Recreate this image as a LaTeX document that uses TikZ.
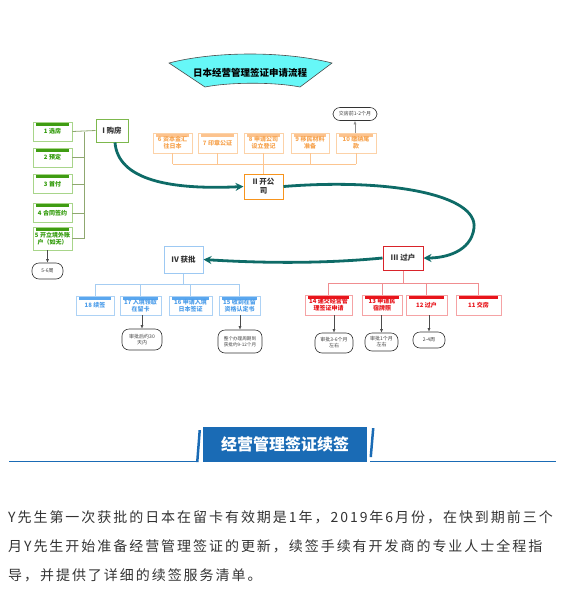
\documentclass[tikz,border=0pt]{standalone}
\usepackage{fontspec}
\setmainfont{Noto Sans CJK SC}
\newfontfamily\bodyfont[LetterSpace=14]{Noto Sans CJK SC}
\usetikzlibrary{arrows.meta}

\definecolor{gtext}{HTML}{2F9A07}
\definecolor{gedge}{HTML}{A8D58A}
\definecolor{gbar}{HTML}{3F9C12}
\definecolor{gline}{HTML}{8FA870}
\definecolor{gphase}{HTML}{7DB84D}
\definecolor{otext}{HTML}{F7A450}
\definecolor{oedge}{HTML}{FCD2A8}
\definecolor{obar}{HTML}{FCC38E}
\definecolor{oline}{HTML}{FCC590}
\definecolor{ophase}{HTML}{F7941D}
\definecolor{rtext}{HTML}{E8141B}
\definecolor{redge}{HTML}{F5A3A5}
\definecolor{rbar}{HTML}{E8141B}
\definecolor{rline}{HTML}{F08D90}
\definecolor{rphase}{HTML}{D9232A}
\definecolor{btext}{HTML}{4C9DEA}
\definecolor{bedge}{HTML}{ADD2F5}
\definecolor{bbar}{HTML}{5AA7EF}
\definecolor{bline}{HTML}{A6CDF2}
\definecolor{bphase}{HTML}{9DC9F3}
\definecolor{flow}{HTML}{0E6B67}
\definecolor{banner}{HTML}{66F7F7}
\definecolor{hblue}{HTML}{1A6BB5}
\definecolor{bodytext}{HTML}{333333}

\tikzset{
  task/.style={draw=#1edge, line width=0.8pt, fill=white, text=#1text,
    font=\bfseries\fontsize{6}{7}\selectfont, align=center, inner sep=1pt,
    minimum height=19pt,
    path picture={\fill[#1bar] ([xshift=3pt,yshift=-0.6pt]path picture bounding box.north west)
      rectangle ([xshift=-3pt,yshift=-3.6pt]path picture bounding box.north east);}},
  phase/.style={draw=#1, line width=1pt, fill=white, text=bodytext,
    font=\bfseries\fontsize{7.5}{9}\selectfont, align=center, inner sep=1pt,
    minimum width=39pt, minimum height=25pt},
  note/.style={draw=black!80, line width=0.6pt, rounded corners=7pt, fill=white,
    text=black!75, font=\fontsize{5}{6}\selectfont, align=center, inner sep=1pt},
  tie/.style={draw=#1, line width=0.8pt},
  flowarrow/.style={draw=flow, line width=2.8pt, -{Stealth[length=8pt,width=8pt]}},
  notearrow/.style={draw=black!70, line width=0.6pt, -{Latex[length=3.5pt,width=3pt]}}
}

\begin{document}
\begin{tikzpicture}[x=1pt, y=-1pt]
        \useasboundingbox (0,0) rectangle (562,595);

        % Title banner
        \draw[fill=banner, draw=black!70, line width=0.6pt] (169,63)
            .. controls (215,51) and (285,51) .. (332,63) -- (300,87)
            .. controls (275,82) and (230,82) .. (205,87) -- cycle;
        \node[font=\bfseries\fontsize{9.5}{11}\selectfont] (title) at (250,73) {日本经营管理签证申请流程};

        % Phase nodes
        \node[phase=gphase, minimum width=32pt, minimum height=23pt] (buy) at (112,130.5) {I 购房};
        \node[phase=ophase] (setup) at (263.5,186.5) {II 开公\\司};
        \node[phase=rphase, minimum width=40pt, minimum height=24pt] (transfer) at (403,258) {III 过户};
        \node[phase=bphase, minimum height=27pt] (approve) at (183.5,259.5) {IV 获批};

        % Green tasks (buying)
        \node[task=g, minimum width=39pt] (g1) at (52.5,131.5) {1 选房};
        \node[task=g, minimum width=39pt] (g2) at (52.5,157.5) {2 预定};
        \node[task=g, minimum width=39pt] (g3) at (52.5,184) {3 首付};
        \node[task=g, minimum width=39pt] (g4) at (52.5,213) {4 合同签约};
        \node[task=g, minimum width=39pt, minimum height=23pt] (g5) at (52.5,238.5) {5 开立境外账\\户（如无）};
        \node[note, minimum width=31pt, minimum height=16pt] (n1) at (47.5,271) {5-6周};

        \coordinate (gspine) at (84,0);
        \draw[tie=gline] (g1.east) -- (buy.west);
        \draw[tie=gline] (g1.east -| gspine) -- (g5.east -| gspine);
        \foreach \i in {2,...,5}
            \draw[tie=gline] (g\i.east) -- (g\i.east -| gspine);
        \draw[notearrow] (g5.south -| n1.north) -- (n1.north);

        % Orange tasks (company)
        \node[task=o, minimum width=39pt, minimum height=20pt] (o6) at (172.5,143) {6 资本金汇\\往日本};
        \node[task=o, minimum width=39pt, minimum height=20pt] (o7) at (217.5,143) {7 印章公证};
        \node[task=o, minimum width=39pt, minimum height=20pt] (o8) at (263.5,143) {8 申请公司\\设立登记};
        \node[task=o, minimum width=38pt, minimum height=20pt] (o9) at (310,143) {9 移民材料\\准备};
        \node[task=o, minimum width=40pt, minimum height=20pt] (o10) at (356,143) {10 缴纳尾\\款};
        \node[note, minimum width=44pt, minimum height=13pt] (n2) at (355,114) {交房前1-2个月};

        \coordinate (ospine) at (0,164);
        \foreach \i in {6,...,10}
            \draw[tie=oline] (o\i.south) -- (o\i.south |- ospine);
        \draw[tie=oline] (o6.south |- ospine) -- (o10.south |- ospine);
        \draw[tie=oline] (o8.south |- ospine) -- (setup.north);
        \draw[notearrow, draw=black!45] (o10.north -| n2.south) -- (n2.south);

        % Red tasks (transfer)
        \node[task=r, minimum width=47pt, minimum height=20pt] (r14) at (328.5,305) {14 递交经营管\\理签证申请};
        \node[task=r, minimum width=40pt, minimum height=20pt] (r13) at (382,305) {13 申请民\\宿牌照};
        \node[task=r, minimum width=41pt, minimum height=20pt] (r12) at (426.5,305) {12 过户};
        \node[task=r, minimum width=45pt, minimum height=20pt] (r11) at (478.5,305) {11 交房};
        \node[note, minimum width=38pt, minimum height=20pt] (n14) at (334,343) {审批3-6个月\\左右};
        \node[note, minimum width=33pt, minimum height=18pt] (n13) at (381.5,342) {审批1个月\\左右};
        \node[note, minimum width=32pt, minimum height=16pt] (n12) at (429,340) {2-4周};

        \coordinate (rspine) at (0,283);
        \draw[tie=rline] (transfer.south) -- (transfer.south |- rspine);
        \draw[tie=rline] (r14.north |- rspine) -- (r11.north |- rspine);
        \foreach \i in {14,13,12,11}
            \draw[tie=rline] (r\i.north |- rspine) -- (r\i.north);
        \draw[notearrow] (r14.south -| n14.north) -- (n14.north);
        \draw[notearrow] (r13.south -| n13.north) -- (n13.north);
        \draw[notearrow] (r12.south -| n12.north) -- (n12.north);

        % Blue tasks (approval)
        \node[task=b, minimum width=38pt] (b18) at (95,305.5) {18 续签};
        \node[task=b, minimum width=41pt] (b17) at (140.5,305.5) {17 入境领取\\在留卡};
        \node[task=b, minimum width=43pt] (b16) at (190.5,305.5) {16 申请入境\\日本签证};
        \node[task=b, minimum width=41pt] (b15) at (239.5,305.5) {15 收到在留\\资格认定书};
        \node[note, minimum width=40pt, minimum height=21pt] (n17) at (142,339.5) {审批后约30\\天内};
        \node[note, minimum width=44pt, minimum height=23pt, font=\fontsize{4.6}{5.6}\selectfont] (n15) at (240,341.5) {整个办理周期到\\获批约9-12个月};

        \coordinate (bspine) at (0,284);
        \draw[tie=bline] (approve.south) -- (approve.south |- bspine);
        \draw[tie=bline] (b18.north |- bspine) -- (b15.north |- bspine);
        \foreach \i in {18,17,16,15}
            \draw[tie=bline] (b\i.north |- bspine) -- (b\i.north);
        \draw[notearrow] (b17.south -| n17.north) -- (n17.north);
        \draw[notearrow] (b15.south -| n15.north) -- (n15.north);

        % Main flow
        \draw[flowarrow] ([xshift=3pt]buy.south) .. controls (118,180) and (170,190) .. (setup.west);
        \draw[flowarrow] (setup.east) .. controls (390,178) and (478,195) .. (474,228)
            .. controls (471,252) and (445,258) .. (transfer.east);
        \draw[flowarrow] (transfer.west) .. controls (320,264) and (260,263) .. (approve.east);

        % Renewal header
        \node[fill=hblue, minimum width=164pt, minimum height=35pt, inner sep=0pt, text=white,
            font=\bfseries\fontsize{16}{18}\selectfont] (renew) at (285,444.5) {经营管理签证续签};
        \fill[hblue] (198.5,430) -- (201,430) -- (198.5,462) -- (196,462) -- cycle;
        \fill[hblue] (372,428) -- (374.5,428) -- (372,457) -- (369.5,457) -- cycle;
        \draw[hblue, line width=0.9pt] (9,461) -- (196,461);
        \draw[hblue, line width=0.9pt] (370,461) -- (556,461);

        % Paragraph
        \node[anchor=west, inner sep=0pt, text=bodytext, font=\bodyfont\fontsize{14}{16}\selectfont] (line1) at (8,517)
            {Y先生第一次获批的日本在留卡有效期是1年，2019年6月份，在快到期前三个};
        \node[anchor=west, inner sep=0pt, text=bodytext, font=\bodyfont\fontsize{14}{16}\selectfont] (line2) at (8,546)
            {月Y先生开始准备经营管理签证的更新，续签手续有开发商的专业人士全程指};
        \node[anchor=west, inner sep=0pt, text=bodytext, font=\bodyfont\fontsize{14}{16}\selectfont] (line3) at (8,575)
            {导，并提供了详细的续签服务清单。};
\end{tikzpicture}
\end{document}
